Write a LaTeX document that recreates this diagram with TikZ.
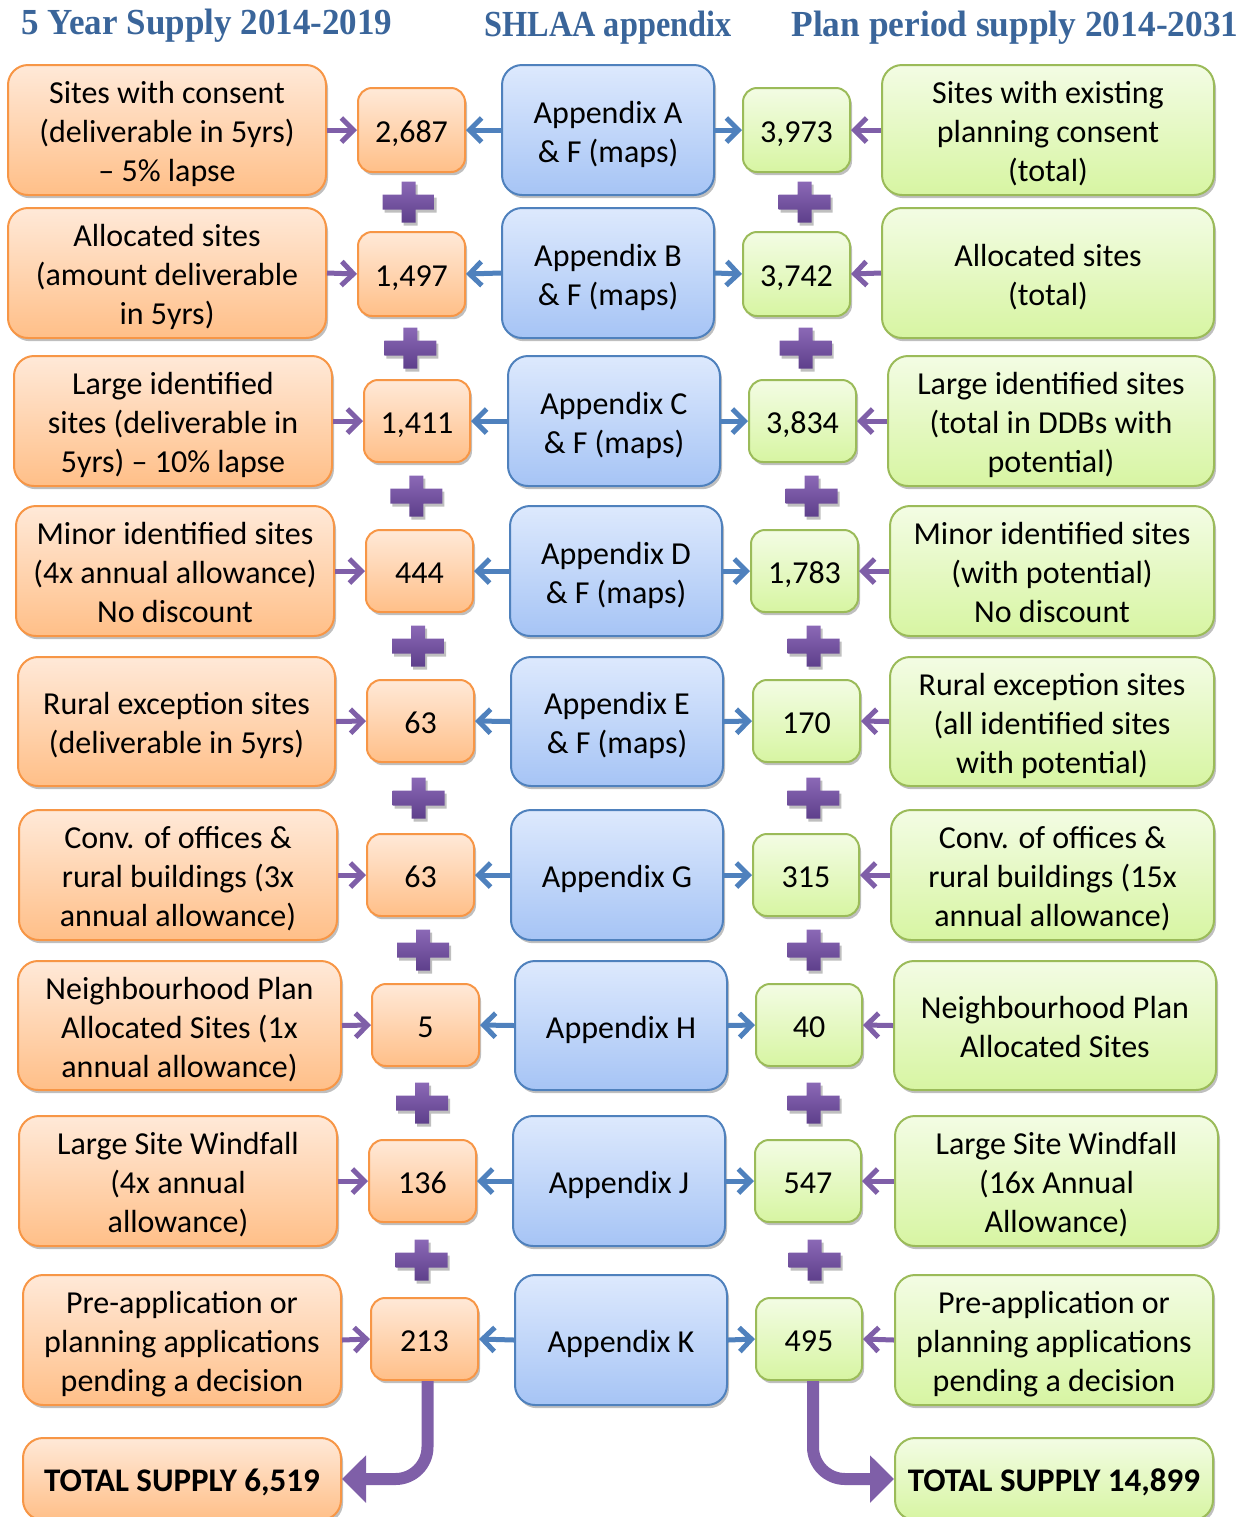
\documentclass[tikz,border=0pt]{standalone}
\usepackage{fontspec}
\setmainfont{Carlito}
\newfontfamily\hdrfont{Liberation Serif}
\usetikzlibrary{arrows.meta,shadows,calc}
\definecolor{oBorder}{HTML}{F79646}
\definecolor{oTop}{HTML}{FFE9D8}
\definecolor{oBot}{HTML}{FFBF88}
\definecolor{bBorder}{HTML}{4F81BD}
\definecolor{bTop}{HTML}{DDE9FD}
\definecolor{bBot}{HTML}{A6C4F5}
\definecolor{gBorder}{HTML}{9BBB59}
\definecolor{gTop}{HTML}{F3FCE4}
\definecolor{gBot}{HTML}{D7F5A2}
\definecolor{purp}{HTML}{7F5FA8}
\definecolor{purpTop}{HTML}{8B69B6}
\definecolor{purpBot}{HTML}{5E3F8B}
\definecolor{bluArr}{HTML}{4F81BD}
\definecolor{hdrCol}{HTML}{3A659A}
\newcommand\bx[7]{\node[#2, minimum width={(#5-#3)*0.5pt}, minimum height={(#6-#4)*0.5pt}] (#1) at ({(#3+#5)/2},{(#4+#6)/2}) {\raisebox{-2.4pt}[\height][\depth]{\begin{tabular}{@{}c@{}}#7\end{tabular}}};}
\newcommand\crossat[3]{%
  \begin{scope}[shift={($(#1.south)!0.5!(#2.north)$)}, xshift=#3]
    \path[plusfill] (-7,-20.5) -- (7,-20.5) -- (7,-7.5) -- (26,-7.5) -- (26,7.5) -- (7,7.5) -- (7,20.5) -- (-7,20.5) -- (-7,7.5) -- (-26,7.5) -- (-26,-7.5) -- (-7,-7.5) -- cycle;
  \end{scope}}
\tikzset{
  basebox/.style={rectangle, rounded corners=10pt, line width=1pt, inner sep=0pt, align=center,
    font=\fontsize{16}{19.5}\selectfont,
    drop shadow={shadow xshift=1pt, shadow yshift=-1.6pt, opacity=0.25, fill=black}},
  orgbox/.style={basebox, draw=oBorder, top color=oTop, bottom color=oBot},
  blubox/.style={basebox, draw=bBorder, top color=bTop, bottom color=bBot},
  grnbox/.style={basebox, draw=gBorder, top color=gTop, bottom color=gBot},
  orgnum/.style={orgbox, rounded corners=7pt},
  grnnum/.style={grnbox, rounded corners=7pt},
  totbox/.style={font=\fontsize{16.5}{19.5}\selectfont\bfseries},
  parr/.style={draw=purp, line width=2.5pt, -{Straight Barb[length=6pt,width=12pt]}},
  barr/.style={draw=bluArr, line width=2.5pt, -{Straight Barb[length=6pt,width=12pt]}},
  bigarr/.style={draw=purp, line width=6pt, rounded corners=16pt, -{Triangle[length=12pt,width=23pt]}},
  plusfill/.style={top color=purpTop, bottom color=purpBot,
    drop shadow={shadow xshift=1pt, shadow yshift=-1.5pt, opacity=0.25, fill=black}},
  hdr/.style={text=hdrCol, font=\hdrfont\bfseries\fontsize{17}{20}\selectfont, inner sep=0pt}
}
\begin{document}
\begin{tikzpicture}[x=0.5pt, y=-0.5pt]
\useasboundingbox (0,0) rectangle (1250,1517);
% headers
\node[hdr] (h1) at (207,26) {\scalebox{1.03}[1.08]{5 Year Supply 2014-2019}};
\node[hdr] (h2) at (608,28) {\scalebox{0.95}[1.08]{SHLAA appendix}};
\node[hdr] (h3) at (1015,28) {\scalebox{1.04}[1.08]{Plan period supply 2014-2031}};
% row 1
\bx{L1}{orgbox}{8}{65}{326}{195}{Sites with consent\\(deliverable in 5yrs)\\– 5\% lapse}
\bx{N1}{orgnum}{358}{88}{465}{172}{2,687}
\bx{A1}{blubox}{502}{65}{714}{195}{Appendix A\\\& F (maps)}
\bx{M1}{grnnum}{743}{88}{850}{172}{3,973}
\bx{R1}{grnbox}{882}{65}{1214}{195}{Sites with existing\\planning consent\\(total)}
% row 2
\bx{L2}{orgbox}{8}{208}{326}{338}{Allocated sites\\(amount deliverable\\in 5yrs)}
\bx{N2}{orgnum}{358}{232}{465}{316}{1,497}
\bx{A2}{blubox}{502}{208}{714}{338}{Appendix B\\\& F (maps)}
\bx{M2}{grnnum}{743}{232}{850}{316}{3,742}
\bx{R2}{grnbox}{882}{208}{1214}{338}{Allocated sites\\(total)}
% row 3
\bx{L3}{orgbox}{14}{356}{332}{486}{Large identified\\sites (deliverable in\\5yrs) – 10\% lapse}
\bx{N3}{orgnum}{364}{380}{470}{462}{1,411}
\bx{A3}{blubox}{508}{356}{720}{486}{Appendix C\\\& F (maps)}
\bx{M3}{grnnum}{749}{380}{856}{462}{3,834}
\bx{R3}{grnbox}{888}{356}{1214}{486}{Large identified sites\\(total in DDBs with\\potential)}
% row 4
\bx{L4}{orgbox}{16}{506}{334}{636}{Minor identified sites\\(4x annual allowance)\\No discount}
\bx{N4}{orgnum}{366}{530}{473}{612}{444}
\bx{A4}{blubox}{510}{506}{722}{636}{Appendix D\\\& F (maps)}
\bx{M4}{grnnum}{751}{530}{858}{612}{1,783}
\bx{R4}{grnbox}{890}{506}{1214}{636}{Minor identified sites\\(with potential)\\No discount}
% row 5
\bx{L5}{orgbox}{18}{657}{335}{786}{Rural exception sites\\(deliverable in 5yrs)}
\bx{N5}{orgnum}{367}{680}{474}{762}{63}
\bx{A5}{blubox}{511}{657}{723}{786}{Appendix E\\\& F (maps)}
\bx{M5}{grnnum}{753}{680}{860}{762}{170}
\bx{R5}{grnbox}{890}{657}{1214}{786}{Rural exception sites\\(all identified sites\\with potential)}
% row 6
\bx{L6}{orgbox}{19}{810}{337}{940}{Conv. of offices \&\\rural buildings (3x\\annual allowance)}
\bx{N6}{orgnum}{367}{834}{474}{916}{63}
\bx{A6}{blubox}{511}{810}{723}{940}{Appendix G}
\bx{M6}{grnnum}{753}{834}{859}{916}{315}
\bx{R6}{grnbox}{891}{810}{1214}{940}{Conv. of offices \&\\rural buildings (15x\\annual allowance)}
% row 7
\bx{L7}{orgbox}{18}{961}{341}{1090}{Neighbourhood Plan\\Allocated Sites (1x\\annual allowance)}
\bx{N7}{orgnum}{372}{984}{479}{1066}{5}
\bx{A7}{blubox}{515}{961}{727}{1090}{Appendix H}
\bx{M7}{grnnum}{756}{984}{862}{1066}{40}
\bx{R7}{grnbox}{894}{961}{1216}{1090}{Neighbourhood Plan\\Allocated Sites}
% row 8
\bx{L8}{orgbox}{19}{1116}{337}{1246}{Large Site Windfall\\(4x annual\\allowance)}
\bx{N8}{orgnum}{369}{1140}{476}{1222}{136}
\bx{A8}{blubox}{513}{1116}{725}{1246}{Appendix J}
\bx{M8}{grnnum}{755}{1140}{861}{1222}{547}
\bx{R8}{grnbox}{895}{1116}{1218}{1246}{Large Site Windfall\\(16x Annual\\Allowance)}
% row 9
\bx{L9}{orgbox}{23}{1275}{341}{1405}{Pre-application or\\planning applications\\pending a decision}
\bx{N9}{orgnum}{371}{1298}{478}{1380}{213}
\bx{A9}{blubox}{515}{1275}{727}{1405}{Appendix K}
\bx{M9}{grnnum}{756}{1298}{862}{1380}{495}
\bx{R9}{grnbox}{895}{1275}{1213}{1405}{Pre-application or\\planning applications\\pending a decision}
% totals
\bx{TL}{orgbox,totbox}{23}{1438}{341}{1520}{TOTAL SUPPLY 6,519}
\bx{TR}{grnbox,totbox}{895}{1438}{1213}{1520}{TOTAL SUPPLY 14,899}
% row arrows
\foreach \i in {1,...,9}{
  \draw[parr] (L\i.east) -- (N\i.west);
  \draw[barr] (A\i.west) -- (N\i.east);
  \draw[barr] (A\i.east) -- (M\i.west);
  \draw[parr] (R\i.west) -- (M\i.east);
}
% plus signs
\crossat{N1}{N2}{-1.5pt}\crossat{N2}{N3}{-2pt}\crossat{N3}{N4}{-1pt}\crossat{N4}{N5}{-1pt}
\crossat{N5}{N6}{-1pt}\crossat{N6}{N7}{0pt}\crossat{N7}{N8}{-1pt}\crossat{N8}{N9}{-1pt}
\crossat{M1}{M2}{4pt}\crossat{M2}{M3}{3pt}\crossat{M3}{M4}{4pt}\crossat{M4}{M5}{4pt}
\crossat{M5}{M6}{3.5pt}\crossat{M6}{M7}{3pt}\crossat{M7}{M8}{2.5pt}\crossat{M8}{M9}{3pt}
% total arrows
\draw[bigarr] ([xshift=1.5pt]N9.south) |- (TL.east);
\draw[bigarr] ([xshift=2pt]M9.south) |- (TR.west);
\end{tikzpicture}
\end{document}
